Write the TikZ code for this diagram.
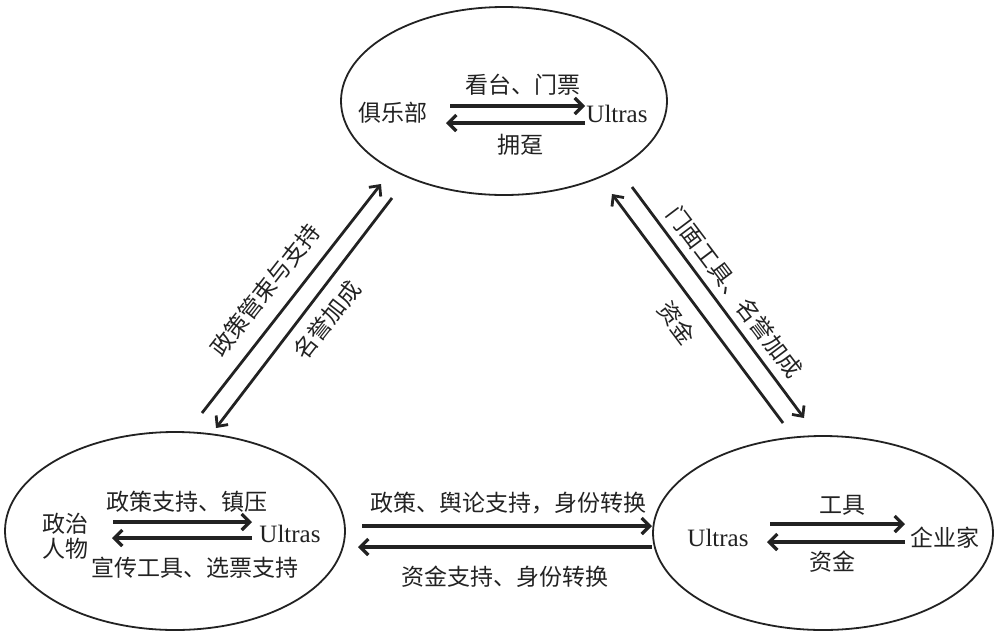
\documentclass[tikz,border=0pt]{standalone}
\usepackage{fontspec}
\setmainfont{Liberation Serif}
\newfontfamily\cjk{Noto Sans CJK SC}
\usetikzlibrary{arrows.meta,shapes.geometric}
\definecolor{ink}{HTML}{222222}
\begin{document}
\begin{tikzpicture}[x=1pt,y=-1pt,
  ell/.style={draw=ink, line width=1.8pt, ellipse, inner sep=0pt},
  cn/.style={font=\cjk\fontsize{23}{27}\selectfont, text=ink, inner sep=0pt},
  lat/.style={font=\fontsize{25}{28}\selectfont, text=ink, inner sep=0pt},
  arr/.style={draw=ink, line width=3.3pt, -{Straight Barb[length=8pt,width=16pt]}},
  darr/.style={draw=ink, line width=2.8pt, -{Straight Barb[length=8pt,width=15pt]}}]
\useasboundingbox (0,0) rectangle (999,633);
% ellipses
\node[ell, minimum width=326pt, minimum height=188pt] (club) at (504,101) {};
\node[ell, minimum width=340pt, minimum height=198pt] (pol) at (175,531) {};
\node[ell, minimum width=340pt, minimum height=194pt] (biz) at (823,533) {};
% club contents
\node[cn] (clubn) at (393,113) {俱乐部};
\node[lat] (clubu) at (617,114) {Ultras};
\coordinate (c1a) at (450,106); \coordinate (c1b) at (585,106);
\coordinate (c2a) at (585,123); \coordinate (c2b) at (446,123);
\draw[arr] (c1a) -- (c1b);
\draw[arr] (c2a) -- (c2b);
\node[cn] (clubl1) at (523,85) {看台、门票};
\node[cn] (clubl2) at (520,145) {拥趸};
% politician contents
\node[cn, align=center, font=\cjk\fontsize{23}{25}\selectfont] (poln) at (65,536) {政治\\人物};
\node[lat] (polu) at (290,534) {Ultras};
\coordinate (p1a) at (113,522); \coordinate (p1b) at (252,522);
\coordinate (p2a) at (252,538); \coordinate (p2b) at (112,538);
\draw[arr] (p1a) -- (p1b);
\draw[arr] (p2a) -- (p2b);
\node[cn] (poll1) at (187,502) {政策支持、镇压};
\node[cn] (poll2) at (195,568) {宣传工具、选票支持};
% business contents
\node[lat] (bizu) at (718,538) {Ultras};
\node[cn] (bizn) at (945,538) {企业家};
\coordinate (b1a) at (770,524); \coordinate (b1b) at (905,524);
\coordinate (b2a) at (905,542); \coordinate (b2b) at (767,542);
\draw[arr] (b1a) -- (b1b);
\draw[arr] (b2a) -- (b2b);
\node[cn] (bizl1) at (842,505) {工具};
\node[cn] (bizl2) at (832,562) {资金};
% middle horizontal
\coordinate (m1a) at (362,526); \coordinate (m1b) at (652,526);
\coordinate (m2a) at (652,547); \coordinate (m2b) at (358,547);
\draw[arr] (m1a) -- (m1b);
\draw[arr] (m2a) -- (m2b);
\node[cn] (ml1) at (508,503) {政策、舆论支持，身份转换};
\node[cn] (ml2) at (505,577) {资金支持、身份转换};
% left diagonal
\coordinate (l1a) at (202,413); \coordinate (l1b) at (381,184);
\coordinate (l2a) at (392,198); \coordinate (l2b) at (216,428);
\draw[darr] (l1a) -- (l1b);
\draw[darr] (l2a) -- (l2b);
\node[cn, rotate=52] (ll1) at (265,290) {政策管束与支持};
\node[cn, rotate=52] (ll2) at (327,320) {名誉加成};
% right diagonal
\coordinate (r1a) at (783,423); \coordinate (r1b) at (612,194);
\coordinate (r2a) at (632,187); \coordinate (r2b) at (804,418);
\draw[darr] (r1a) -- (r1b);
\draw[darr] (r2a) -- (r2b);
\node[cn, rotate=-53] (rl1) at (735,292) {门面工具、名誉加成};
\node[cn, rotate=-53] (rl2) at (677,323) {资金};
\end{tikzpicture}
\end{document}
